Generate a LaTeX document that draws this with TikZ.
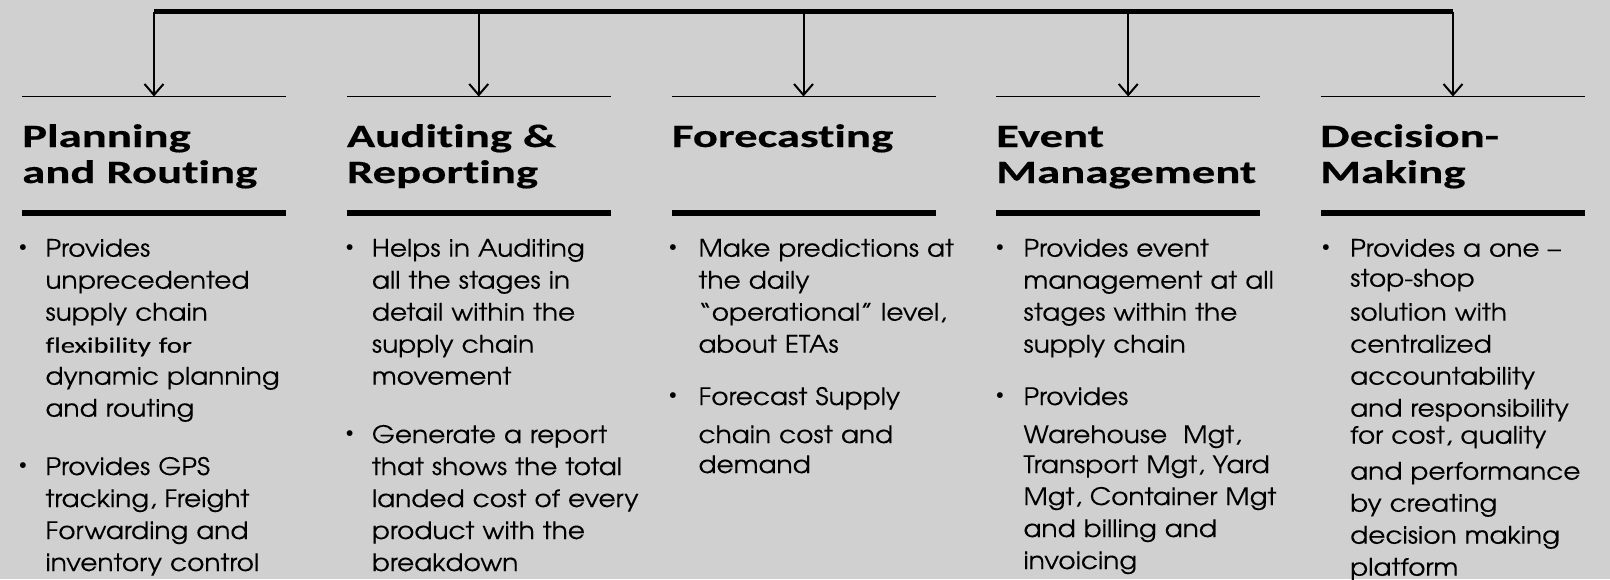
\documentclass[tikz,border=0pt]{standalone}
\usepackage{fontspec}
\usetikzlibrary{arrows.meta}
\newfontfamily\headfont[FakeStretch=1.44,FakeBold=0.4,Ligatures=NoCommon]{Carlito}
\newfontfamily\calib[FakeStretch=1.3,FakeBold=0.3,Ligatures=NoCommon]{Carlito}
\newfontfamily\gothic[FakeStretch=1.1,FakeBold=0.15]{TeX Gyre Adventor}
\definecolor{bggray}{RGB}{208,208,208}
\tikzset{
  head/.style={anchor=base west, align=left, text width=330pt, inner sep=0pt,
    font=\headfont\bfseries\fontsize{32.5}{36}\selectfont},
  body/.style={anchor=base west, align=left, text width=300pt, inner sep=0pt,
    font=\gothic\fontsize{24}{32}\selectfont},
  bulletmark/.style={inner sep=0pt, font=\fontsize{26}{26}\selectfont},
  arr/.style={line width=2pt, -{Straight Barb[length=11pt,width=19pt]}},
}

\begin{document}
\begin{tikzpicture}[x=1pt,y=-1pt]
  \useasboundingbox (0,0) rectangle (1610,579);
  \fill[bggray] (0,0) rectangle (1610,579);
  \coordinate (barL) at (154,11.5);
  \coordinate (barR) at (1453,11.5);
  \draw[line width=4.7pt] (barL) -- (barR);
  \foreach \i/\x in {1/154,2/478.75,3/803.5,4/1128.25,5/1453}{
    \coordinate (top\i) at (\x,11.5);
    \coordinate (tip\i) at (\x,96.5);
    \draw[arr] (top\i) -- (tip\i);
    \draw[line width=1.3pt] (\x-132,96.5) -- (\x+132,96.5);
    \draw[line width=5.5pt] (\x-132,213) -- (\x+132,213);
  }

  \node[head] (h1) at (22,147) {Planning\\and Routing};
  \node[head] (h2) at (346.7,147) {Auditing \&\\Reporting};
  \node[head] (h3) at (671.7,147) {Forecasting};
  \node[head] (h4) at (996,147) {Event\\Management};
  \node[head] (h5) at (1320,147) {Decision-\\Making};

  \node[bulletmark] (d11) at (23,249.5) {•};
  \node[body] (t11) at (45.3,256.7) {Provides\\unprecedented\\supply chain\\
    {\calib\fontsize{22}{32}\selectfont flexibility for}\\dynamic planning\\and routing};
  \node[bulletmark] (d12) at (23,468) {•};
  \node[body] (t12) at (45.3,475) {Provides GPS\\tracking, Freight\\Forwarding and\\inventory control};

  \node[bulletmark] (d21) at (349.7,249.5) {•};
  \node[body] (t21) at (371.7,256.7) {Helps in Auditing\\all the stages in\\detail within the\\supply chain\\movement};
  \node[bulletmark] (d22) at (349.7,436) {•};
  \node[body] (t22) at (371.7,443) {Generate a report\\that shows the total\\landed cost of every\\product with the\\breakdown};

  \node[bulletmark] (d31) at (673,249.5) {•};
  \node[body] (t31) at (698.3,256.7) {Make predictions at\\the daily\\“operational” level,\\about ETAs};
  \node[bulletmark] (d32) at (673,398) {•};
  \node[body] (t32) at (698.3,405) {Forecast Supply\\[6pt]chain cost and\\[-2pt]demand};

  \node[bulletmark] (d41) at (1000,249.5) {•};
  \node[body] (t41) at (1023.3,256.7) {Provides event\\management at all\\stages within the\\supply chain};
  \node[bulletmark] (d42) at (1000,398) {•};
  \node[body] (t42) at (1023.3,405) {Provides\\[6pt]Warehouse~ Mgt,\\[-2pt]Transport Mgt, Yard\\Mgt, Container Mgt\\and billing and\\invoicing};

  \node[bulletmark] (d51) at (1326,249.5) {•};
  \node[body] (t51) at (1350,256.7) {Provides a one –\\[-2pt]stop-shop\\[2pt]solution with\\centralized\\accountability\\and responsibility\\[-5pt]for cost, quality\\[4pt]and performance\\by creating\\decision making\\platform};
\end{tikzpicture}
\end{document}
